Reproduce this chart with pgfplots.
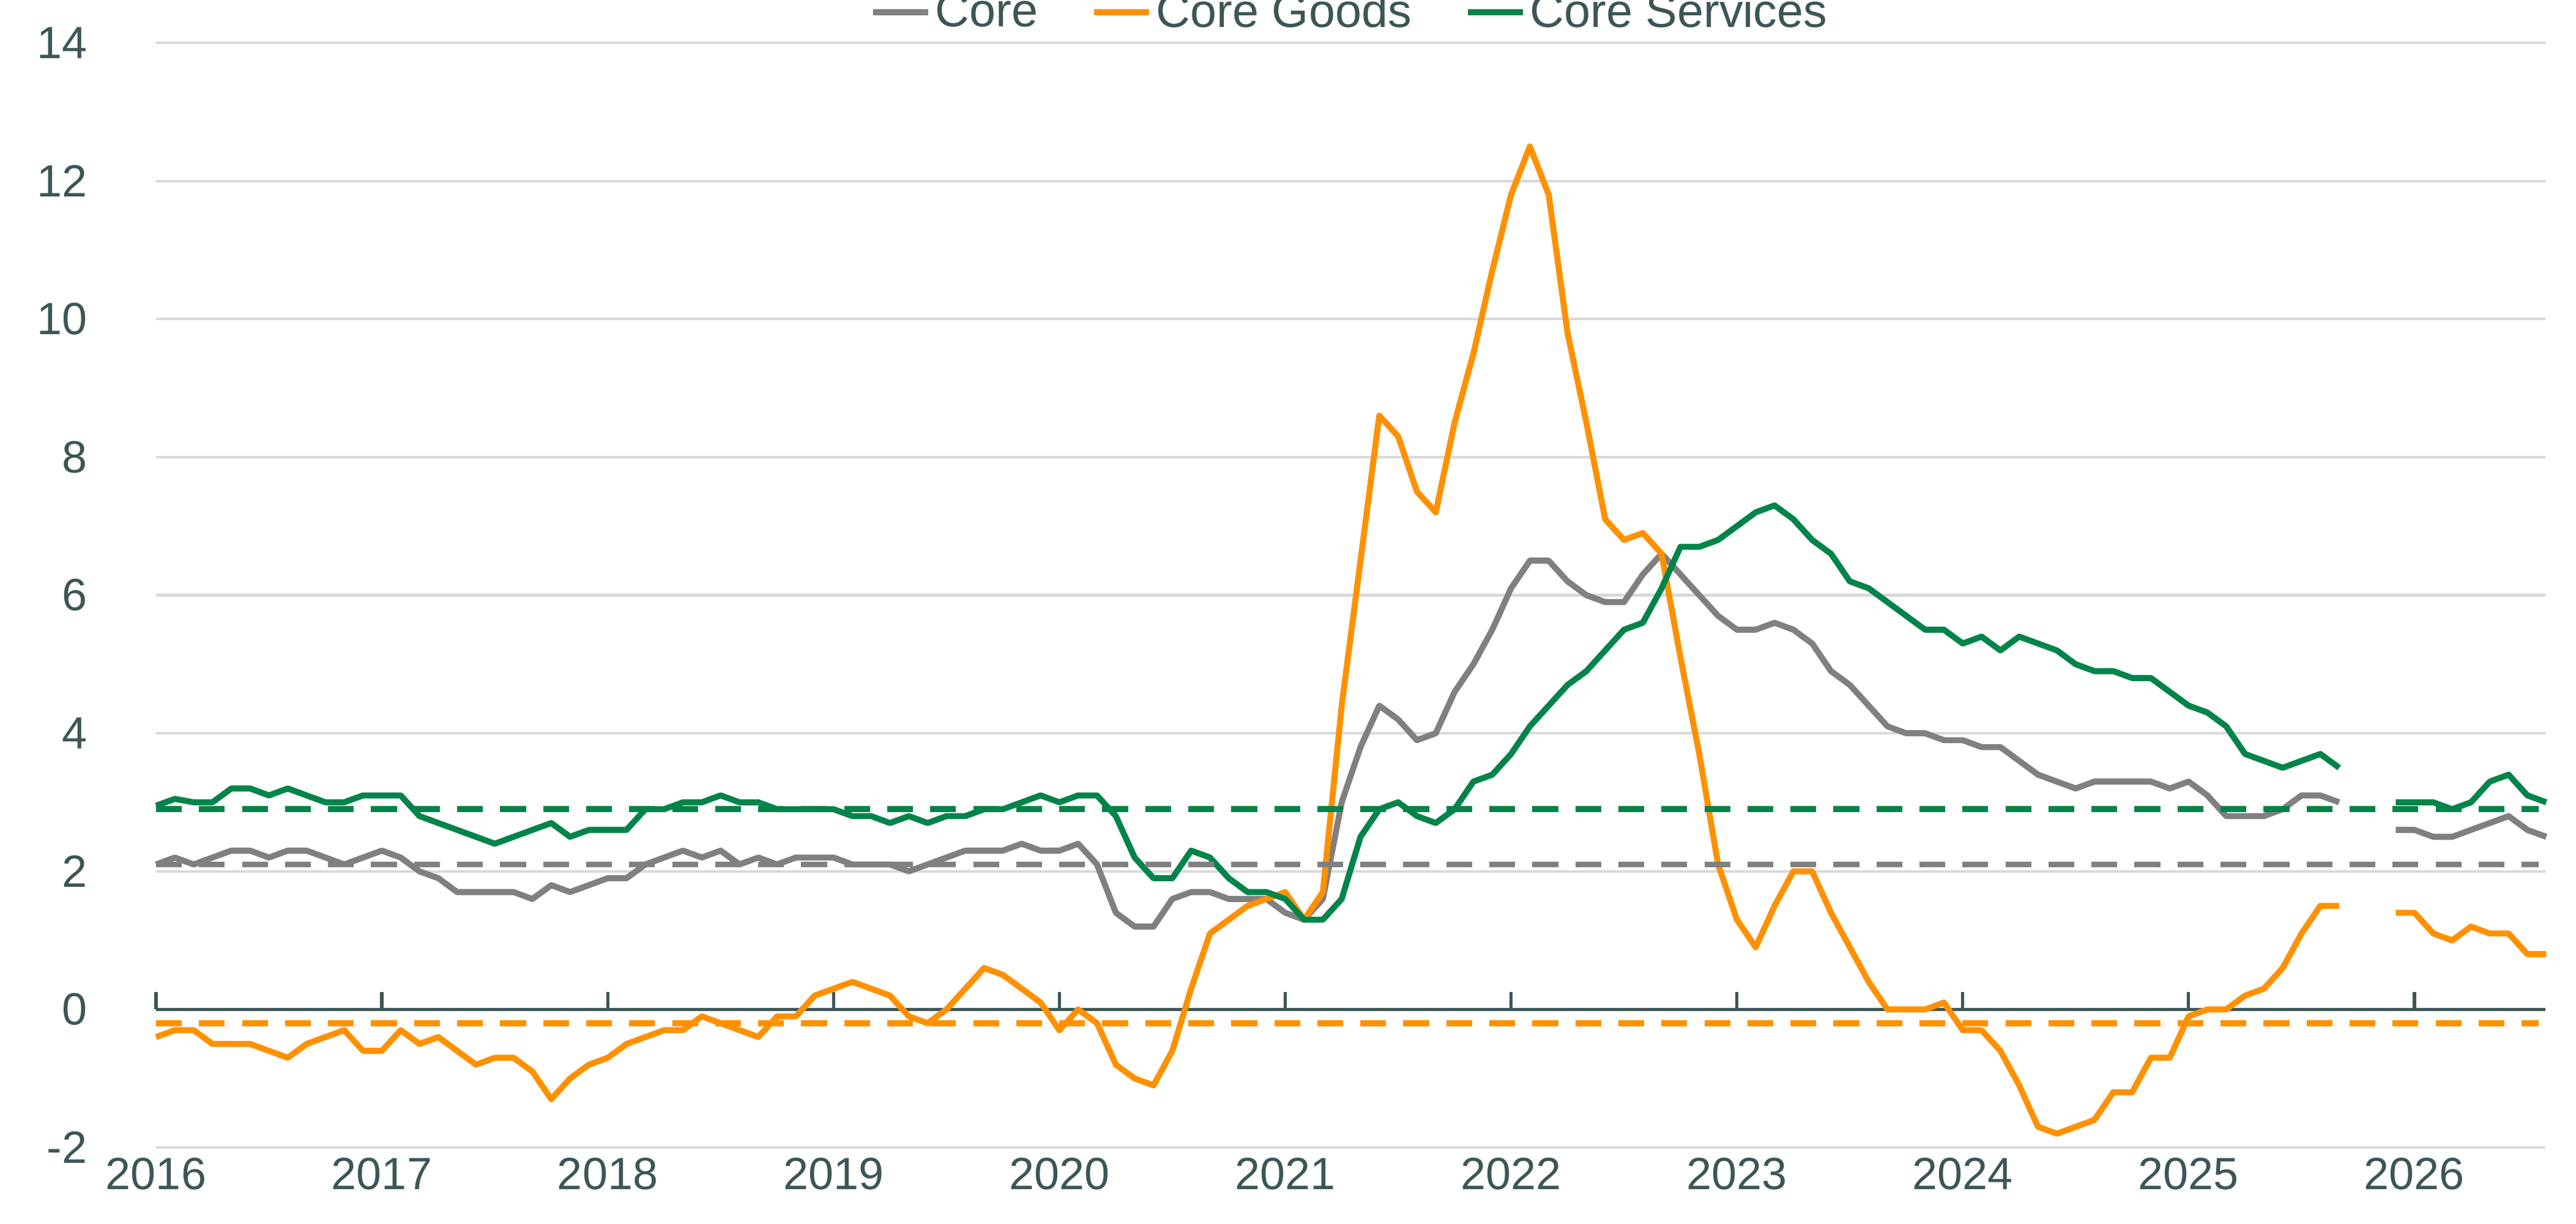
\documentclass[border=0pt]{standalone}
\usepackage{pgfplots}
\pgfplotsset{compat=1.18}
\usepackage{fontspec}
\setmainfont{Liberation Sans}
\definecolor{cgray}{HTML}{808080}
\definecolor{corange}{HTML}{FF9100}
\definecolor{cgreen}{HTML}{00844A}
\definecolor{ctext}{HTML}{3C5656}
\begin{document}
\begin{tikzpicture}
\begin{axis}[name=ax,
  scale only axis, width=39.05cm, height=18.05cm,
  xmin=2016, xmax=2026.58, ymin=-2, ymax=14,
  ytick={-2,0,...,14}, xtick={2016,...,2026},
  xticklabel style={/pgf/number format/1000 sep=},
  /pgf/number format/assume math mode=true,
  ticklabel style={font=\fontsize{21}{24}\selectfont, text=ctext},
  ymajorgrids, grid style={line width=1.2pt, color=black!15},
  axis line style={draw=none}, major tick length=0pt,
  yticklabel style={xshift=-1.0cm},
  xticklabel style={yshift=-0.05cm},
  ylabel={\textbf{Percent}}, ylabel style={font=\fontsize{22}{24}\selectfont, text=ctext, yshift=0.7cm},
  legend style={at={(0.5,1.0)}, anchor=south, yshift=0.05cm, draw=none, fill=none, legend columns=3,
    font=\fontsize{22}{24}\selectfont, text=ctext, /tikz/every even column/.append style={column sep=0.8cm}},
  legend image code/.code={\draw[#1] (0cm,0cm) -- (0.9cm,0cm);},
  every axis plot/.append style={line width=2.8pt, line join=round},
  clip=false,
]
\addplot[ctext, line width=1.5pt, forget plot] coordinates {(2016,0) (2026.58,0)};
\pgfplotsinvokeforeach{2016,...,2026}{\addplot[ctext, line width=1.5pt, forget plot] coordinates {(#1,0) (#1,0.25)};}
% Core
\addplot[cgray] table[x expr=2016+\coordindex/12, y index=0] {
y
2.1
2.2
2.1
2.2
2.3
2.3
2.2
2.3
2.3
2.2
2.1
2.2
2.3
2.2
2.0
1.9
1.7
1.7
1.7
1.7
1.6
1.8
1.7
1.8
1.9
1.9
2.1
2.2
2.3
2.2
2.3
2.1
2.2
2.1
2.2
2.2
2.2
2.1
2.1
2.1
2.0
2.1
2.2
2.3
2.3
2.3
2.4
2.3
2.3
2.4
2.1
1.4
1.2
1.2
1.6
1.7
1.7
1.6
1.6
1.6
1.4
1.3
1.6
3.0
3.8
4.4
4.2
3.9
4.0
4.6
5.0
5.5
6.1
6.5
6.5
6.2
6.0
5.9
5.9
6.3
6.6
6.3
6.0
5.7
5.5
5.5
5.6
5.5
5.3
4.9
4.7
4.4
4.1
4.0
4.0
3.9
3.9
3.8
3.8
3.6
3.4
3.3
3.2
3.3
3.3
3.3
3.3
3.2
3.3
3.1
2.8
2.8
2.8
2.9
3.1
3.1
3.0
};
\addlegendentry{Core}
% Core Goods
\addplot[corange] table[x expr=2016+\coordindex/12, y index=0] {
y
-0.4
-0.3
-0.3
-0.5
-0.5
-0.5
-0.6
-0.7
-0.5
-0.4
-0.3
-0.6
-0.6
-0.3
-0.5
-0.4
-0.6
-0.8
-0.7
-0.7
-0.9
-1.3
-1.0
-0.8
-0.7
-0.5
-0.4
-0.3
-0.3
-0.1
-0.2
-0.3
-0.4
-0.1
-0.1
0.2
0.3
0.4
0.3
0.2
-0.1
-0.2
0.0
0.3
0.6
0.5
0.3
0.1
-0.3
0.0
-0.2
-0.8
-1.0
-1.1
-0.6
0.3
1.1
1.3
1.5
1.6
1.7
1.3
1.7
4.4
6.5
8.6
8.3
7.5
7.2
8.5
9.5
10.7
11.8
12.5
11.8
9.8
8.5
7.1
6.8
6.9
6.6
5.1
3.7
2.1
1.3
0.9
1.5
2.0
2.0
1.4
0.9
0.4
0.0
0.0
0.0
0.1
-0.3
-0.3
-0.6
-1.1
-1.7
-1.8
-1.7
-1.6
-1.2
-1.2
-0.7
-0.7
-0.1
0.0
0.0
0.2
0.3
0.6
1.1
1.5
1.5
};
\addlegendentry{Core Goods}
% Core Services
\addplot[cgreen] table[x expr=2016+\coordindex/12, y index=0] {
y
2.95
3.05
3.0
3.0
3.2
3.2
3.1
3.2
3.1
3.0
3.0
3.1
3.1
3.1
2.8
2.7
2.6
2.5
2.4
2.5
2.6
2.7
2.5
2.6
2.6
2.6
2.9
2.9
3.0
3.0
3.1
3.0
3.0
2.9
2.9
2.9
2.9
2.8
2.8
2.7
2.8
2.7
2.8
2.8
2.9
2.9
3.0
3.1
3.0
3.1
3.1
2.8
2.2
1.9
1.9
2.3
2.2
1.9
1.7
1.7
1.6
1.3
1.3
1.6
2.5
2.9
3.0
2.8
2.7
2.9
3.3
3.4
3.7
4.1
4.4
4.7
4.9
5.2
5.5
5.6
6.1
6.7
6.7
6.8
7.0
7.2
7.3
7.1
6.8
6.6
6.2
6.1
5.9
5.7
5.5
5.5
5.3
5.4
5.2
5.4
5.3
5.2
5.0
4.9
4.9
4.8
4.8
4.6
4.4
4.3
4.1
3.7
3.6
3.5
3.6
3.7
3.5
};
\addlegendentry{Core Services}
% forecasts
\addplot[cgray, forget plot] table[x expr=2025.917+\coordindex/12, y index=0] {
y
2.6
2.6
2.5
2.5
2.6
2.7
2.8
2.6
2.5
};
\addplot[corange, forget plot] table[x expr=2025.917+\coordindex/12, y index=0] {
y
1.4
1.4
1.1
1.0
1.2
1.1
1.1
0.8
0.8
};
\addplot[cgreen, forget plot] table[x expr=2025.917+\coordindex/12, y index=0] {
y
3.0
3.0
3.0
2.9
3.0
3.3
3.4
3.1
3.0
};
% averages
\addplot[cgreen, dashed, dash pattern=on 12pt off 8pt, forget plot] coordinates {(2016,2.9) (2026.55,2.9)};
\addplot[cgray, dashed, dash pattern=on 12pt off 8pt, forget plot] coordinates {(2016,2.1) (2026.55,2.1)};
\addplot[corange, dashed, dash pattern=on 12pt off 8pt, forget plot] coordinates {(2016,-0.2) (2026.55,-0.2)};
\end{axis}
\pgfresetboundingbox
\path[use as bounding box] ([shift={(-2.55cm,-1.24cm)}]ax.south west) rectangle ([shift={(0.5cm,0.7cm)}]ax.north east);
\end{tikzpicture}
\end{document}
